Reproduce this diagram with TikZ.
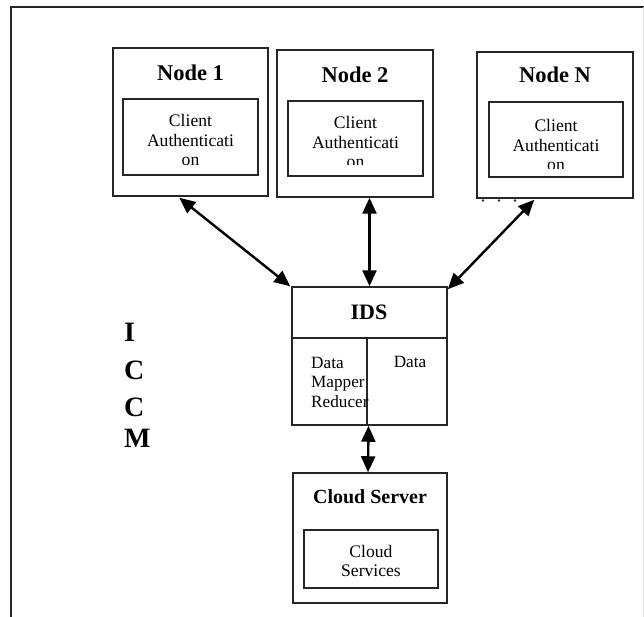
\documentclass[tikz,border=0pt]{standalone}
\usepackage{fontspec}
\setmainfont{Liberation Serif}
\usetikzlibrary{arrows.meta,calc}
\begin{document}
\begin{tikzpicture}[x=1pt,y=-1pt,
  box/.style={draw=black!85,line width=1.5pt,rectangle,inner sep=0pt},
  ttl/.style={font=\fontsize{22.5}{24}\selectfont\bfseries,inner sep=0pt},
  ctext/.style={font=\fontsize{17.6}{19.8}\selectfont,align=center,inner sep=0pt},
  ltext/.style={font=\fontsize{17.2}{19.5}\selectfont,align=left,inner sep=0pt},
  big/.style={font=\fontsize{28}{30}\selectfont\bfseries,inner sep=0pt,anchor=west},
  arr/.style={line width=2.4pt,{Triangle[length=16pt,width=14pt]}-{Triangle[length=16pt,width=14pt]}}]
\useasboundingbox (0,0) rectangle (644,617);
\fill[white] (0,0) rectangle (644,617);
% frame
\draw[line width=1.5pt,black!85] (11,617) -- (11,7) -- (644,7);
\draw[line width=1pt,black!12] (643,7) -- (643,617);
% Node 1
\node[box,minimum width=155,minimum height=148] (n1) at (190.5,122) {};
\node[ttl] (n1t) at (190.5,73) {Node 1};
\node[box,minimum width=135,minimum height=76] (n1i) at (190.5,137) {};
\begin{scope}
\clip (123,99) rectangle (258,165);
\node[ctext] (n1c) at (190.5,140) {Client\\Authenticati\\on};
\end{scope}
% Node 2
\node[box,minimum width=156,minimum height=147] (n2) at (355,123.5) {};
\node[ttl] (n2t) at (355,75) {Node 2};
\node[box,minimum width=135,minimum height=75] (n2i) at (355.5,138.5) {};
\begin{scope}
\clip (288,101) rectangle (423,165);
\node[ctext] (n2c) at (355.5,142) {Client\\Authenticati\\on};
\end{scope}
% Node N
\node[box,minimum width=156,minimum height=146] (nN) at (555,125) {};
\node[ttl] (nNt) at (555,75) {Node N};
\node[box,minimum width=134,minimum height=75] (nNi) at (556,139.5) {};
\begin{scope}
\clip (489,102) rectangle (623,169);
\node[ctext] (nNc) at (556,145) {Client\\Authenticati\\on};
\end{scope}
\foreach \xx in {483,499,515} \fill[black!80] (\xx,200.5) circle (1.3);
% IDS
\node[box,minimum width=155,minimum height=138] (ids) at (369.5,356) {};
\draw[line width=1.5pt,black!85] (292,338) -- (447,338);
\draw[line width=1.5pt,black!85] (367,338) -- (367,425);
\node[ttl,font=\fontsize{22}{24}\selectfont\bfseries] (idst) at (369,312) {IDS};
\node[ltext,anchor=west] (idsl) at (311,382) {Data\\Mapper\\Reducer};
\node[ltext] (idsr) at (410,362) {Data};
% Cloud server
\node[box,minimum width=154,minimum height=130] (cs) at (370,538) {};
\node[ttl,font=\fontsize{20}{24}\selectfont\bfseries] (cst) at (370,497) {Cloud Server};
\node[box,minimum width=134,minimum height=58] (csi) at (371,559) {};
\node[ctext] (csc) at (371,561) {Cloud\\Services};
% ICCM
\node[big] (l1) at (124,332) {I};
\node[big] (l2) at (124,370) {C};
\node[big] (l3) at (124,407) {C};
\node[big] (l4) at (124,438) {M};
% arrows
\draw[arr] ($(n1.south west)+(67,1)$) -- ($(ids.north west)+(-1,0)$);
\draw[arr] (n2.south -| ids.north) -- (ids.north);
\draw[arr] ($(nN.south west)+(58,1)$) -- ($(ids.north east)+(0,3)$);
\draw[arr] ($(ids.south)+(-1,0)$) -- ($(cs.north)+(-2,0)$);
\end{tikzpicture}
\end{document}
